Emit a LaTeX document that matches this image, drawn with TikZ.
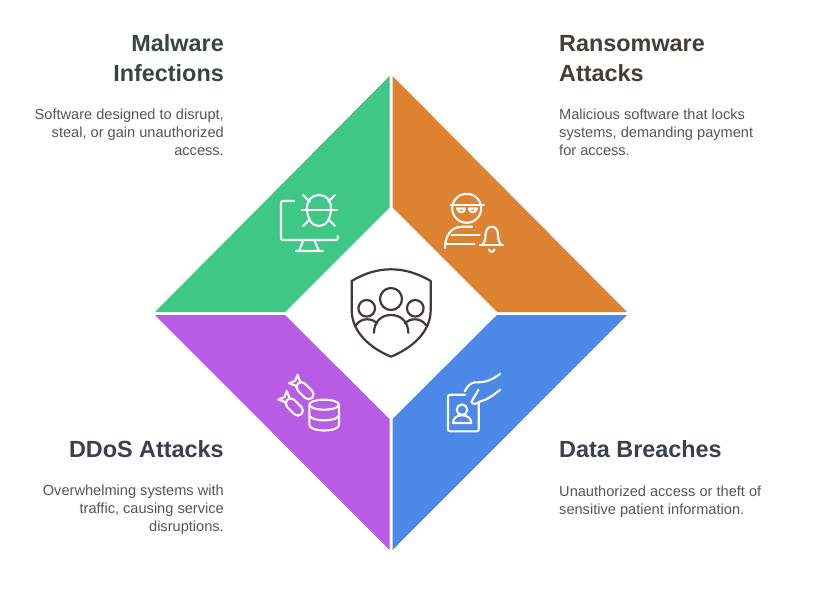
\documentclass[tikz,border=0pt]{standalone}
\usepackage{fontspec}
\setmainfont{Liberation Sans}
\definecolor{greenpanel}{HTML}{3FC786}
\definecolor{orangepanel}{HTML}{DD8230}
\definecolor{purplepanel}{HTML}{B85CE6}
\definecolor{bluepanel}{HTML}{4C88E8}
\definecolor{greentitle}{HTML}{37473F}
\definecolor{orangetitle}{HTML}{473D33}
\definecolor{purpletitle}{HTML}{453850}
\definecolor{bluetitle}{HTML}{38424F}
\definecolor{bodytext}{HTML}{555555}
\definecolor{shieldline}{HTML}{46363A}
\tikzset{
	iconline/.style={draw=white, line width=2.1pt, line cap=round, line join=round},
	shieldstroke/.style={draw=shieldline, line width=2.2pt, line cap=round, line join=round},
	titleleft/.style={anchor=base east, inner sep=0pt, font=\fontsize{23.4}{30}\selectfont\bfseries},
	titleright/.style={anchor=base west, inner sep=0pt, font=\fontsize{23.4}{30}\selectfont\bfseries},
	bodyleft/.style={anchor=north east, inner sep=0pt, align=right, text=bodytext, font=\fontsize{14.6}{18}\selectfont},
	bodyright/.style={anchor=north west, inner sep=0pt, align=left, text=bodytext, font=\fontsize{14.6}{18}\selectfont}
}
\newcommand\bomb[2]{
	\begin{scope}[shift={(#1,#2)}, rotate=-45]
		\draw[iconline, rounded corners=4.8pt] (-10,-5) rectangle (10,5);
		\draw[iconline] (-10,-3) -- (-16.5,-6) -- (-14,0) -- (-16.5,6) -- (-10,3);
	\end{scope}
	}

\begin{document}
\begin{tikzpicture}[x=1pt, y=-1pt]
	\useasboundingbox (0,0) rectangle (813,615);
	\fill[white] (0,0) rectangle (813,615);

	% panels
	\fill[greenpanel] (389.5,76) -- (155,312) -- (285,312) -- (389.5,207.5) -- cycle;
	\fill[orangepanel] (392.5,76) -- (627,312) -- (497,312) -- (392.5,207.5) -- cycle;
	\fill[purplepanel] (389.5,550) -- (155,315) -- (285,315) -- (389.5,419) -- cycle;
	\fill[bluepanel] (392.5,550) -- (627,315) -- (497,315) -- (392.5,419) -- cycle;

	% shield
	\draw[shieldstroke] (351.7,281) .. controls (365,273) and (378,269.3) .. (391,269.3) .. controls (404,269.3) and (417,273) .. (430.7,281) -- (430.7,310) .. controls (430.7,332) and (412,348) .. (391,356.7) .. controls (370,348) and (351.7,332) .. (351.7,310) -- cycle;
	\draw[shieldstroke] (391,299) circle (11);
	\draw[shieldstroke] (366.7,308.3) circle (8.3);
	\draw[shieldstroke] (415.3,308.3) circle (8.3);
	\draw[shieldstroke] (374,332.7) .. controls (374,322) and (381,315) .. (391,315) .. controls (401,315) and (408.3,322) .. (408.3,332.7);
	\draw[shieldstroke] (356,325) .. controls (359,321) and (363,319.3) .. (367,319.3) .. controls (371,319.3) and (374,320.5) .. (377,323.3);
	\draw[shieldstroke] (426,325) .. controls (423,321) and (419,319.3) .. (415,319.3) .. controls (411,319.3) and (408,320.5) .. (405,323.3);

	% malware icon
	\draw[iconline] (294.3,201) -- (283,201) .. controls (281.5,201) and (281,201.5) .. (281,203) -- (281,238) .. controls (281,239.5) and (281.5,240) .. (283,240) -- (336,240) .. controls (337.2,240) and (337.7,239.5) .. (337.7,238) -- (337.7,236);
	\draw[iconline] (302.7,241.7) -- (299,251) (315,241.7) -- (319,251) (296,251) -- (322.7,251);
	\draw[iconline] (319,195) .. controls (326,195) and (331,200) .. (331,208) .. controls (331,219) and (326,226) .. (319,226) .. controls (312,226) and (307,219) .. (307,208) .. controls (307,200) and (312,195) .. (319,195) -- cycle;
	\draw[iconline] (301.7,210) -- (337,210);
	\draw[iconline] (303,195) -- (310,201.7) (335,195) -- (328.3,201.7) (303,226) -- (310,219.3) (335,226) -- (328.3,219.3);

	% ransomware icon
	\draw[iconline] (466.7,208.3) circle (14.5);
	\draw[iconline] (450.7,205) -- (484,205);
	\draw[iconline] (457,208.5) -- (465,208.5) .. controls (465,213) and (459,214) .. (457,208.5) -- cycle;
	\draw[iconline] (469,208.5) -- (477,208.5) .. controls (475,214) and (469,213) .. (469,208.5) -- cycle;
	\draw[iconline] (445,248.3) .. controls (445,236) and (451,226.7) .. (462,226.7) -- (472,226.7);
	\draw[iconline] (451.7,235) -- (479.7,235);
	\draw[iconline] (446.7,244) -- (474.5,244);
	\draw[iconline] (480,245) -- (503,245);
	\draw[iconline] (482.5,245) .. controls (485,241) and (485.5,239) .. (485.5,235) .. controls (485.5,230) and (488,226.7) .. (491.7,226.7) .. controls (495.5,226.7) and (498,230) .. (498,235) .. controls (498,239) and (498.5,241) .. (501,245);
	\draw[iconline] (489,249.5) .. controls (489.5,252.5) and (494,252.5) .. (494.5,249.5);

	% ddos icon
	\bomb{305}{390.7}
	\bomb{294.3}{407}
	\draw[iconline] (324.2,404.7) ellipse (14.8 and 5);
	\draw[iconline] (309.4,404.7) -- (309.4,425) .. controls (309.4,428) and (316,430.5) .. (324.2,430.5) .. controls (332.4,430.5) and (339,428) .. (339,425) -- (339,404.7);
	\draw[iconline] (309.4,415) .. controls (309.4,418) and (316,420.3) .. (324.2,420.3) .. controls (332.4,420.3) and (339,418) .. (339,415);

	% breach icon
	\draw[iconline] (465,394.7) -- (450,394.7) .. controls (448.7,394.7) and (448,395.4) .. (448,396.7) -- (448,429.3) .. controls (448,430.6) and (448.7,431.3) .. (450,431.3) -- (476.7,431.3) .. controls (478,431.3) and (478.7,430.6) .. (478.7,429.3) -- (478.7,403);
	\draw[iconline] (462,409.7) circle (5.3);
	\draw[iconline] (453,423) .. controls (453,418) and (457,415.3) .. (462,415.3) .. controls (467,415.3) and (471.3,418) .. (471.3,423) -- cycle;
	\draw[iconline] (464.7,391.3) .. controls (467,387) and (470,383) .. (474,382.5) .. controls (482,382) and (488,383) .. (500.3,373.7);
	\draw[iconline] (478.5,389.7) -- (471.3,402) .. controls (473,405) and (477,404) .. (480,401.5) .. controls (487,400) and (492,396) .. (500.3,389.7);

	% labels
	\node[titleleft, text=greentitle] (malwaretitlea) at (224,52) {Malware};
	\node[titleleft, text=greentitle] (malwaretitleb) at (224,82) {Infections};
	\node[bodyleft] (malwarebody) at (224,108.5) {Software designed to disrupt,\\steal, or gain unauthorized\\access.};

	\node[titleright, text=orangetitle] (ransomtitlea) at (559,52) {Ransomware};
	\node[titleright, text=orangetitle] (ransomtitleb) at (559,82) {Attacks};
	\node[bodyright] (ransombody) at (559,108.5) {Malicious software that locks\\systems, demanding payment\\for access.};

	\node[titleleft, text=purpletitle] (ddostitle) at (224,457) {DDoS Attacks};
	\node[bodyleft] (ddosbody) at (224,484.5) {Overwhelming systems with\\traffic, causing service\\disruptions.};

	\node[titleright, text=bluetitle] (breachtitle) at (559,457) {Data Breaches};
	\node[bodyright] (breachbody) at (559,485.5) {Unauthorized access or theft of\\sensitive patient information.};
\end{tikzpicture}
\end{document}
